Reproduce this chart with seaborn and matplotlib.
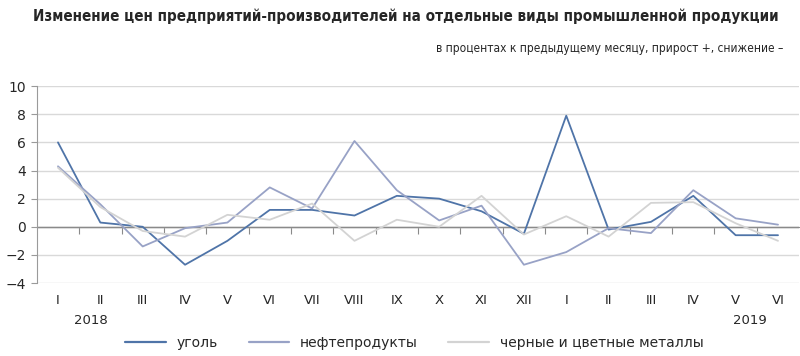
import pandas as pd
import matplotlib
matplotlib.use("Agg")
import matplotlib.pyplot as plt
import seaborn as sns

months = ["I", "II", "III", "IV", "V", "VI", "VII", "VIII", "IX", "X", "XI", "XII",
          "I", "II", "III", "IV", "V", "VI"]
coal = [6.0, 0.3, 0.0, -2.7, -1.0, 1.2, 1.2, 0.8, 2.2, 2.0, 1.1, -0.5,
        7.9, -0.2, 0.35, 2.2, -0.6, -0.6]
oil = [4.3, 1.6, -1.4, -0.1, 0.3, 2.8, 1.3, 6.1, 2.6, 0.45, 1.5, -2.7,
       -1.8, -0.1, -0.45, 2.6, 0.6, 0.15]
metals = [4.2, 1.4, -0.3, -0.7, 0.85, 0.5, 1.65, -1.0, 0.5, 0.0, 2.2, -0.55,
          0.75, -0.7, 1.7, 1.75, 0.25, -1.0]
series_names = ["уголь", "нефтепродукты", "черные и цветные металлы"]
colors = ["#4f74a8", "#98a2c6", "#d3d3d3"]

rows = []
for name, vals in zip(series_names, [coal, oil, metals]):
    for i, v in enumerate(vals):
        rows.append({"pos": i, "val": v, "series": name})
df = pd.DataFrame(rows)

sns.set_style("white")
plt.rcParams["font.family"] = ["DejaVu Sans"]

fig = plt.figure(figsize=(8, 3.56), dpi=100)
ax = fig.add_axes([0.046, 0.205, 0.953, 0.553])

sns.lineplot(data=df, x="pos", y="val", hue="series", palette=colors,
             hue_order=series_names, linewidth=1.3, ax=ax, legend=False, zorder=3)

ax.set_xlim(-0.5, 17.5)
ax.set_ylim(-4, 10)
ax.set_yticks(range(-4, 11, 2))
ax.yaxis.grid(True, color="#d9d9d9", linewidth=1)
ax.set_axisbelow(True)
ax.axhline(0, color="#8a8a8a", linewidth=1, zorder=2)
ax.set_xticks(range(len(months)))
ax.set_xticklabels(months, fontsize=9.5)
ax.tick_params(axis="x", length=0, pad=8)
ax.tick_params(axis="y", length=4, color="#9a9a9a", labelsize=10, pad=4, direction="out", left=True)
ax.set_xlabel("")
ax.set_ylabel("")
for s in ["top", "right", "bottom"]:
    ax.spines[s].set_visible(False)
ax.spines["left"].set_color("#9a9a9a")

# zero axis with ticks between categories
sec = ax.secondary_xaxis(4 / 14)
sec.set_xticks([i + 0.5 for i in range(len(months) - 1)])
sec.set_xticklabels([])
sec.tick_params(length=5, color="#8a8a8a", direction="out")
sec.spines["bottom"].set_color("#8a8a8a")

fig.text(0.114, 0.101, "2018", fontsize=9.5, ha="center", va="center")
fig.text(0.9375, 0.101, "2019", fontsize=9.5, ha="center", va="center")

fig.text(0.507, 0.955, "Изменение цен предприятий-производителей на отдельные виды промышленной продукции",
         ha="center", va="center", fontsize=10.9, fontweight="bold", stretch="condensed")
fig.text(0.979, 0.865, "в процентах к предыдущему месяцу, прирост +, снижение –",
         ha="right", va="center", fontsize=8.6, stretch="condensed")

handles = [plt.Line2D([], [], color=c, linewidth=1.6) for c in colors]
fig.legend(handles, series_names, loc="center", bbox_to_anchor=(0.518, 0.036), ncol=3,
           frameon=False, fontsize=10, handlelength=2.9, handletextpad=0.8, columnspacing=2.2)

fig.savefig("out.png", dpi=100)
